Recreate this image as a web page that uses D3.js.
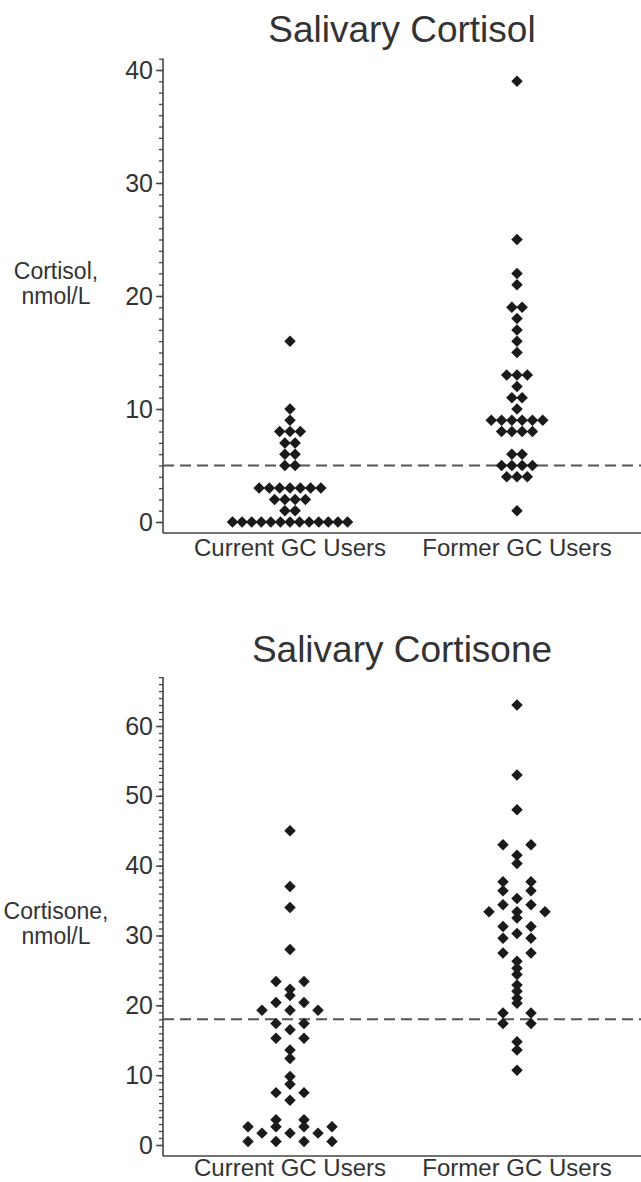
<!DOCTYPE html>
<html>
<head>
<meta charset="utf-8">
<script src="https://cdn.jsdelivr.net/npm/d3@7"></script>
<style>
  body { margin: 0; background: #fff; }
  text { font-family: "Liberation Sans", Arial, sans-serif; fill: #333; }
</style>
</head>
<body>
<div id="chart"></div>
<script>
// groups on the x axis
var groups = ["Current GC Users", "Former GC Users"];

// salivary cortisol, nmol/L
var cortisolCurrent = [16, 10, 9, 8, 8, 8, 7, 7, 6, 6, 5, 5,
  3, 3, 3, 3, 3, 3, 3, 2, 2, 2, 2, 1, 1,
  0, 0, 0, 0, 0, 0, 0, 0, 0, 0, 0, 0, 0];
var cortisolFormer = [39, 25, 22, 21, 19, 19, 18, 17, 16, 15, 13, 13, 13, 12, 11, 11, 10,
  9, 9, 9, 9, 9, 9, 8, 8, 8, 8, 6, 6, 5, 5, 5, 5, 4, 4, 4, 1];

// salivary cortisone, nmol/L
var cortisoneCurrent = [45, 37, 34, 28, 23.4, 23.4, 22.3, 21.4, 20.4, 20.4, 19.3, 19.3, 19.3,
  17.4, 17.4, 16.5, 15.3, 15.3, 13.6, 12.4, 9.8, 8.7, 7.5, 7.5, 6.4,
  3.6, 3.6, 2.6, 2.6, 2.6, 2.6, 1.7, 1.7, 1.7, 0.5, 0.5, 0.5, 0.5];
var cortisoneFormer = [63, 53, 48, 43, 43, 41.5, 40.3, 37.7, 37.7, 36.4, 36.4, 35.3, 34.4, 34.4,
  33.4, 33.4, 33.4, 32.5, 31.3, 31.3, 30.3, 29.6, 29.6, 27.5, 27.5, 26.3, 25.3, 24.4,
  22.9, 22, 21, 20.3, 18.9, 18.9, 17.4, 17.4, 14.8, 13.6, 10.7];

var cortisolTicks = [0, 10, 20, 30, 40];
var cortisoneTicks = [0, 10, 20, 30, 40, 50, 60];

var W = 641, H = 1182;
var axisX = 163;

var svg = d3.select("#chart").append("svg")
    .attr("width", W)
    .attr("height", H);

var x = d3.scalePoint().domain(groups).range([290, 517]);

// points with equal values are spread side by side, centred on the group
function spread(values, step, maxW) {
  var out = [];
  d3.groups(values, function(v) { return v; }).forEach(function(r) {
    var n = r[1].length;
    var s = n > 1 ? Math.min(step, maxW / (n - 1)) : step;
    r[1].forEach(function(v, i) { out.push({ value: v, dx: (i - (n - 1) / 2) * s }); });
  });
  return out;
}

function panel(cfg) {
  var y = d3.scaleLinear().domain([0, cfg.max]).range([cfg.y0, cfg.y1]);
  var g = svg.append("g");
  var baseY = cfg.y0 + 11;

  g.append("text")
      .attr("x", (axisX + W) / 2)
      .attr("y", cfg.titleY)
      .attr("text-anchor", "middle")
      .style("font-size", "37px")
      .text(cfg.title);

  // minor ticks
  var minor = g.append("g").attr("transform", "translate(" + axisX + ",0)")
      .call(d3.axisLeft(y).tickValues(d3.range(0, cfg.top + 0.01, 1))
        .tickSize(4).tickFormat(""));
  minor.select(".domain").remove();
  minor.selectAll("line").attr("stroke", "#444").attr("stroke-width", 1.3);

  var ax = g.append("g").attr("transform", "translate(" + axisX + ",0)")
      .call(d3.axisLeft(y).tickValues(cfg.ticks).tickSize(7).tickPadding(3));
  ax.select(".domain").remove();
  ax.selectAll("line").attr("stroke", "#444").attr("stroke-width", 1.5);
  ax.selectAll("text").style("font-size", "25px")
      .style("font-family", "Liberation Sans, Arial, sans-serif").attr("fill", "#333");

  // axis lines
  g.append("line")
      .attr("x1", axisX).attr("x2", axisX)
      .attr("y1", y(cfg.top)).attr("y2", baseY)
      .attr("stroke", "#444").attr("stroke-width", 1.6);
  g.append("line")
      .attr("x1", axisX).attr("x2", W)
      .attr("y1", baseY).attr("y2", baseY)
      .attr("stroke", "#444").attr("stroke-width", 1.6);

  // reference line
  g.append("line")
      .attr("x1", axisX).attr("x2", W)
      .attr("y1", y(cfg.ref)).attr("y2", y(cfg.ref))
      .attr("stroke", "#555").attr("stroke-width", 2)
      .attr("stroke-dasharray", "11,6");

  groups.forEach(function(grp, k) {
    var pts = spread(cfg.data[k], cfg.step, cfg.maxW);
    g.append("g").selectAll("path").data(pts).enter().append("path")
        .attr("d", d3.symbol().type(d3.symbolSquare).size(66))
        .attr("transform", function(d) {
          return "translate(" + (x(grp) + d.dx) + "," + y(d.value) + ") rotate(45)";
        })
        .attr("fill", "#1a1a1a");

    g.append("text")
        .attr("x", x(grp))
        .attr("y", Math.min(baseY + 23, H - 6))
        .attr("text-anchor", "middle")
        .style("font-size", "24px")
        .text(grp);
  });

  var lab = g.append("text")
      .attr("text-anchor", "middle")
      .style("font-size", "23px");
  lab.append("tspan").attr("x", 56).attr("y", y(cfg.labelAt) - 17).text(cfg.label[0]);
  lab.append("tspan").attr("x", 56).attr("y", y(cfg.labelAt) + 8).text(cfg.label[1]);
}

panel({
  title: "Salivary Cortisol", titleY: 42,
  max: 40, top: 41, y0: 522, y1: 70, ticks: cortisolTicks, ref: 5,
  data: [cortisolCurrent, cortisolFormer], step: 10.3, maxW: 115,
  label: ["Cortisol,", "nmol/L"], labelAt: 20
});

panel({
  title: "Salivary Cortisone", titleY: 662,
  max: 60, top: 67, y0: 1145, y1: 726, ticks: cortisoneTicks, ref: 18,
  data: [cortisoneCurrent, cortisoneFormer], step: 28, maxW: 115,
  label: ["Cortisone,", "nmol/L"], labelAt: 30
});
</script>
</body>
</html>
